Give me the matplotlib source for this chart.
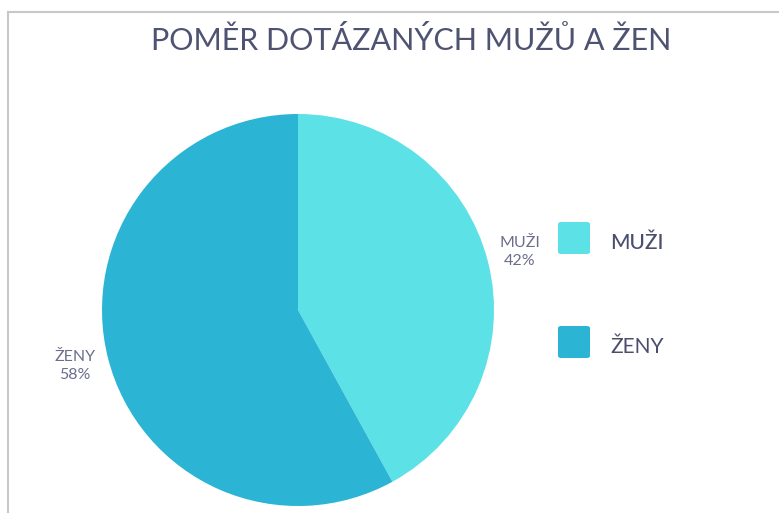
import matplotlib
matplotlib.use("Agg")
import matplotlib.pyplot as plt
from matplotlib.patches import FancyBboxPatch
from matplotlib.lines import Line2D

categories = ["MUŽI", "ŽENY"]
values = [42, 58]
colors = ["#5ce1e6", "#2cb4d5"]
title = "POMĚR DOTÁZANÝCH MUŽŮ A ŽEN"

W, H = 779, 513
fig = plt.figure(figsize=(W / 100, H / 100), dpi=100)
fig.patch.set_facecolor("white")

def fx(x):
    return x / W

def fy(y):
    return 1 - y / H

# frame lines (top and left)
fig.add_artist(Line2D([fx(8), 1.0], [fy(12), fy(12)], color="#c8c8c8", lw=1.5))
fig.add_artist(Line2D([fx(8), fx(8)], [fy(12), 0], color="#c8c8c8", lw=1.5))

font = ["Lato", "DejaVu Sans"]

fig.text(fx(411), fy(40), title, ha="center", va="center", fontsize=22,
         color="#4f5372", family=font, fontweight="normal")

# pie
cx, cy, r = 298, 310, 196
ax = fig.add_axes([fx(cx - r), fy(cy + r), 2 * r / W, 2 * r / H])
ax.pie(values, colors=colors, startangle=90, counterclock=False,
       wedgeprops=dict(linewidth=0))
ax.set_aspect("equal")
ax.set_xlim(-1, 1)
ax.set_ylim(-1, 1)
ax.axis("off")

label_pos = [(520, 252), (75, 366)]
for cat, val, (x, y) in zip(categories, values, label_pos):
    fig.text(fx(x), fy(y), f"{cat}\n{val}%", ha="center", va="center",
             fontsize=11.5, color="#6b6e8a", family=font, linespacing=1.35)

# legend
leg_y = [238, 342]
for cat, col, y, wt in zip(categories, colors, leg_y, ["medium", "normal"]):
    box = FancyBboxPatch((fx(558), fy(y + 16)), 32 / W, 32 / H,
                         boxstyle="round,pad=0,rounding_size=0.004",
                         transform=fig.transFigure, facecolor=col,
                         edgecolor="none")
    fig.add_artist(box)
    fig.text(fx(610), fy(y + 5), cat, ha="left", va="center", fontsize=15,
             color="#4a4e6c", family=font, fontweight=wt)

fig.savefig("out.png", dpi=100)
